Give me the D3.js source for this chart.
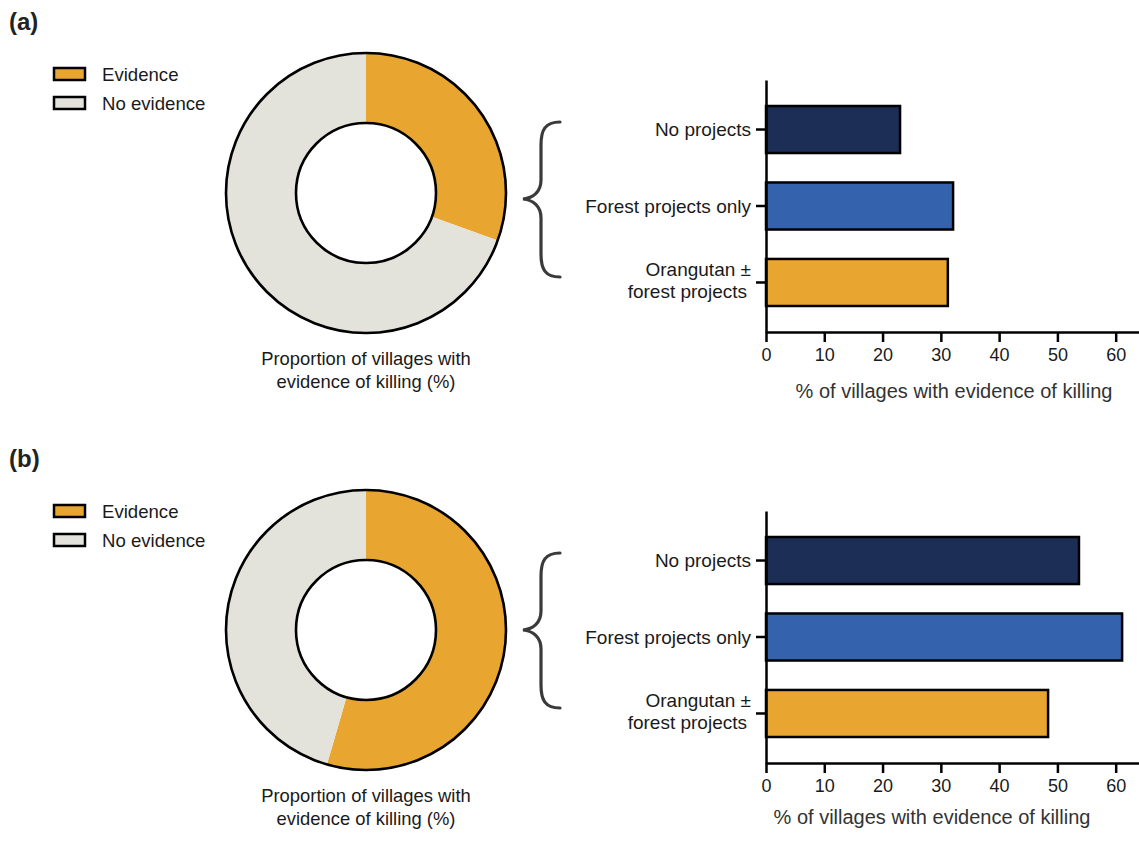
<!DOCTYPE html>
<html>
<head>
<meta charset="utf-8">
<script src="https://cdn.jsdelivr.net/npm/d3@7"></script>
<style>
  html, body { margin: 0; padding: 0; background: #fff; }
  svg { display: block; font-family: "Liberation Sans", Arial, Helvetica, sans-serif; }
</style>
</head>
<body>
<svg id="chart" width="1139" height="841"></svg>
<script>
// Project categories shown on the bar charts
const categories = ["No projects", "Forest projects only", "Orangutan ±\nforest projects"];
const barColors = ["#1c2e55", "#3562ad", "#e8a631"];

// % of villages with evidence of killing, per category
const killingA = [23.0, 32.1, 31.2];
const killingB = [53.7, 61.1, 48.4];

// Overall proportion of villages with evidence of killing (%)
const overallA = 30.5;
const overallB = 54.5;

const legendLabels = ["Evidence", "No evidence"];
const donutColors = ["#e8a631", "#e3e3db"];
const xTicks = [0, 10, 20, 30, 40, 50, 60];

const svg = d3.select("#chart");

function drawPanel(label, dy, overall, values, dy2, titleX, titleY) {
  const g = svg.append("g").attr("transform", `translate(0,${dy})`);

  // panel letter
  g.append("text").attr("x", 9).attr("y", 30)
    .attr("font-size", 24).attr("font-weight", "bold").attr("fill", "#222")
    .text(label);

  // legend
  legendLabels.forEach((t, i) => {
    const ly = 74 + i * 29;
    g.append("rect").attr("x", 54).attr("y", ly - 6).attr("width", 31).attr("height", 12)
      .attr("fill", donutColors[i]).attr("stroke", "#000").attr("stroke-width", 2.5);
    g.append("text").attr("x", 102).attr("y", ly + 6.5)
      .attr("font-size", 18.6).attr("fill", "#1a1a1a").text(t);
  });

  // donut
  const cx = 366, cy = 193, rOut = 140, rIn = 70;
  const pie = d3.pie().sort(null).value(d => d);
  const arc = d3.arc().innerRadius(rIn).outerRadius(rOut);
  const dg = g.append("g").attr("transform", `translate(${cx},${cy})`);
  dg.selectAll("path.slice").data(pie([overall, 100 - overall])).join("path")
    .attr("class", "slice").attr("d", arc)
    .attr("fill", (d, i) => donutColors[i]);
  [rOut, rIn].forEach(r => {
    dg.append("circle").attr("r", r).attr("fill", "none")
      .attr("stroke", "#000").attr("stroke-width", 2.6);
  });
  const cap = g.append("text").attr("text-anchor", "middle")
    .attr("font-size", 18.4).attr("fill", "#1a1a1a");
  cap.append("tspan").attr("x", cx).attr("y", 365).text("Proportion of villages with");
  cap.append("tspan").attr("x", cx).attr("y", 388).text("evidence of killing (%)");

  // brace linking donut and bars
  const b = g.append("g").attr("transform", `translate(0,${dy2})`);
  b.append("path")
    .attr("d", "M560,122 C545,122 541,130 541,145 L541,180 C541,192 533,198 523,199 C533,200 541,206 541,218 L541,254 C541,269 545,277 560,277")
    .attr("fill", "none").attr("stroke", "#3a3a3a").attr("stroke-width", 3.2)
    .attr("stroke-linecap", "round");

  // bar chart
  const bg = g.append("g").attr("transform", `translate(0,${dy2})`);
  const x = d3.scaleLinear().domain([0, 64]).range([766, 1139]);
  const y = d3.scaleBand().domain(categories).range([80, 332])
    .paddingInner(0.385).paddingOuter(0.34);

  bg.selectAll("rect.bar").data(values).join("rect")
    .attr("class", "bar")
    .attr("x", x(0))
    .attr("y", (d, i) => y(categories[i]))
    .attr("width", d => x(d) - x(0))
    .attr("height", y.bandwidth())
    .attr("fill", (d, i) => barColors[i])
    .attr("stroke", "#000").attr("stroke-width", 2.5);

  const xAxis = bg.append("g").attr("transform", `translate(0,332)`)
    .call(d3.axisBottom(x).tickValues(xTicks).tickSize(10).tickSizeOuter(0).tickPadding(6));
  const yAxis = bg.append("g").attr("transform", `translate(766,0)`)
    .call(d3.axisLeft(y).tickSize(10).tickSizeOuter(0).tickFormat(""));
  [xAxis, yAxis].forEach(a => {
    a.select(".domain").attr("stroke", "#000").attr("stroke-width", 2.5);
    a.selectAll(".tick line").attr("stroke", "#000").attr("stroke-width", 2.5);
  });
  xAxis.selectAll(".tick text").attr("font-size", 18).attr("fill", "#1a1a1a")
    .attr("font-family", "Liberation Sans, Arial, sans-serif");

  // category labels (multi-line)
  categories.forEach(c => {
    const lines = c.split("\n");
    const cyc = y(c) + y.bandwidth() / 2;
    const t = bg.append("text").attr("text-anchor", "end")
      .attr("font-size", 19).attr("fill", "#1a1a1a");
    lines.forEach((ln, k) => {
      t.append("tspan").attr("x", k === 0 ? 751 : 747)
        .attr("y", cyc + 6.5 + (k - (lines.length - 1) / 2) * 22 + (lines.length > 1 ? -2 : 0))
        .text(ln);
    });
  });

  bg.append("text").attr("x", titleX).attr("y", titleY)
    .attr("text-anchor", "middle").attr("font-size", 20).attr("fill", "#333")
    .text("% of villages with evidence of killing");
  return g;
}

drawPanel("(a)", 0, overallA, killingA, 0, 954, 398);
drawPanel("(b)", 437, overallB, killingB, -6, 932, 393);
</script>
</body>
</html>
